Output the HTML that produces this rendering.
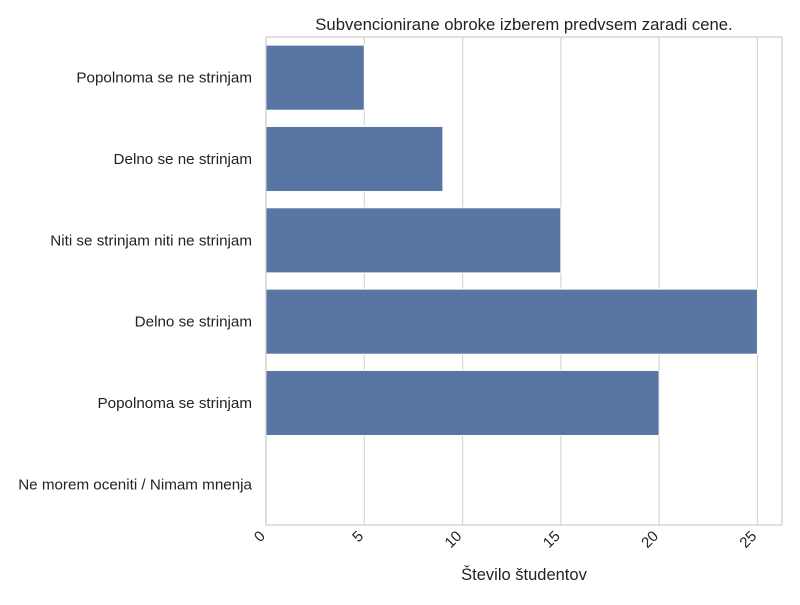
<!DOCTYPE html>
<html><head><meta charset="utf-8"><style>
body{margin:0;background:#fff;}
svg{font-family:"Liberation Sans","DejaVu Sans",sans-serif;}
</style></head><body>
<svg id="chart" width="800" height="600">
<text x="524" y="30" text-anchor="middle" font-size="16.7" fill="#222">Subvencionirane obroke izberem predvsem zaradi cene.</text>
<g id="grid"></g><g id="bars"></g><g id="ylabels"></g><g id="xticks"></g>
<rect x="266" y="37" width="516" height="488" fill="none" stroke="#ccc" stroke-width="1.2"/>
<text x="524" y="580" text-anchor="middle" font-size="16.5" fill="#222">Število študentov</text>
</svg>
<script>
const categories=["Popolnoma se ne strinjam","Delno se ne strinjam","Niti se strinjam niti ne strinjam","Delno se strinjam","Popolnoma se strinjam","Ne morem oceniti / Nimam mnenja"];
const values=[5,9,15,25,20,0];
const xTicks=[0,5,10,15,20,25];
const NS="http://www.w3.org/2000/svg";
const L=266,R=782,T=37,B=525,XMAX=26.25;
const x=v=>L+v/XMAX*(R-L);
const band=(B-T)/categories.length;
const y=i=>T+i*band;
function mk(t,a,p){const e=document.createElementNS(NS,t);for(const k in a)e.setAttribute(k,a[k]);p.appendChild(e);return e;}
const grid=document.getElementById('grid'),bars=document.getElementById('bars'),yl=document.getElementById('ylabels'),xt=document.getElementById('xticks');
xTicks.forEach(v=>{
 const g=mk('line',{x1:x(v),x2:x(v),y1:T,y2:B,stroke:'#d5d5d5','stroke-width':1.2},grid);
 
 
 const ax=x(v),ay=B+12;
 const t=mk('text',{x:ax,y:ay,'font-size':15,fill:'#222','text-anchor':'end',transform:`rotate(-45 ${ax} ${ay})`},xt);
 t.textContent=v;
 
 
});
categories.forEach((c,i)=>{
 const h=band*0.8;
 const r=mk('rect',{x:x(0),y:y(i)+band*0.1,width:x(values[i])-x(0),height:h,fill:'#5875a4',stroke:'#fff','stroke-width':1},bars);
 
 
 const t=mk('text',{x:252,y:y(i)+band/2+5,'font-size':15.2,fill:'#222','text-anchor':'end'},yl);
 t.textContent=c;
 
 
});
</script>
</body></html>
